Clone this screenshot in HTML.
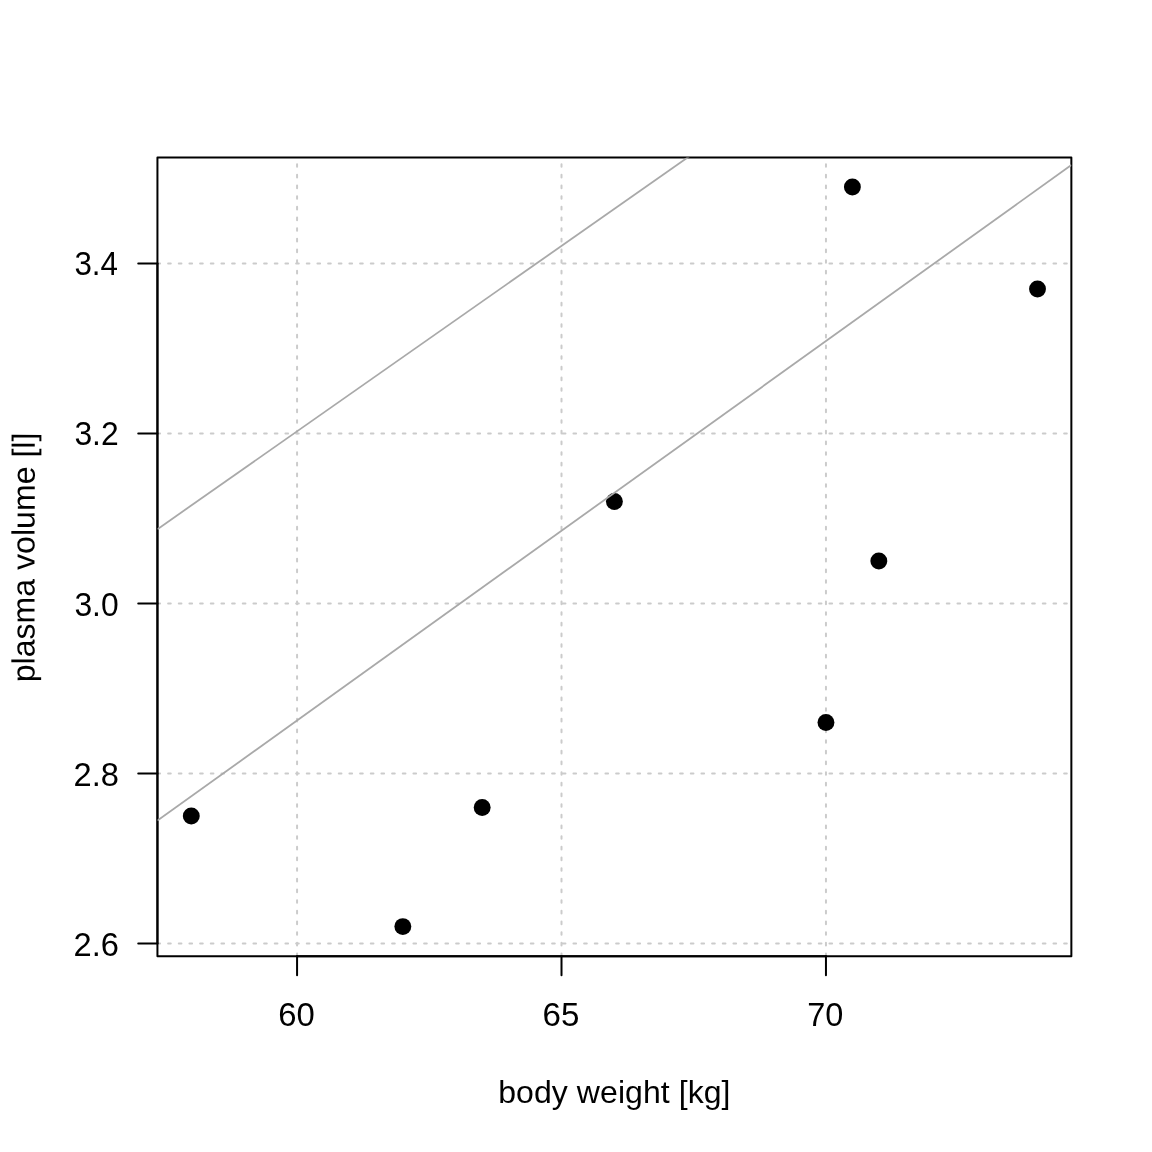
<!DOCTYPE html>
<html><head><meta charset="utf-8"><title>plot</title>
<style>
html,body{margin:0;padding:0;background:#fff;}
svg{display:block;}
text{font-family:"Liberation Sans",sans-serif;font-size:32px;fill:#000;}
</style></head><body>
<svg xmlns="http://www.w3.org/2000/svg" width="1152" height="1152" viewBox="0 0 1152 1152">
<rect width="1152" height="1152" fill="#fff"/>
<defs><clipPath id="c"><rect x="157.44" y="157.44" width="913.92" height="798.72"/></clipPath></defs>
<g stroke="#cbcbcb" stroke-width="2" stroke-linecap="round" stroke-dasharray="2.667 8" fill="none" clip-path="url(#c)">
<path d="M297.07 956.16V157.44"/>
<path d="M561.51 956.16V157.44"/>
<path d="M825.96 956.16V157.44"/>
<path d="M157.44 943.58H1071.36"/>
<path d="M157.44 773.57H1071.36"/>
<path d="M157.44 603.55H1071.36"/>
<path d="M157.44 433.54H1071.36"/>
<path d="M157.44 263.53H1071.36"/>
</g>
<g fill="#000">
<circle cx="191.29" cy="816.07" r="8.45"/>
<circle cx="825.96" cy="722.56" r="8.45"/>
<circle cx="1037.51" cy="289.03" r="8.45"/>
<circle cx="482.18" cy="807.57" r="8.45"/>
<circle cx="402.84" cy="926.58" r="8.45"/>
<circle cx="852.40" cy="187.02" r="8.45"/>
<circle cx="878.84" cy="561.05" r="8.45"/>
<circle cx="614.40" cy="501.55" r="8.45"/>
</g>
<g stroke="#000" stroke-width="2" stroke-linecap="round" fill="none">
<path d="M297.07 956.16H825.96"/>
<path d="M297.07 956.16v19.2"/>
<path d="M561.51 956.16v19.2"/>
<path d="M825.96 956.16v19.2"/>
<path d="M157.44 943.58V263.53"/>
<path d="M157.44 943.58h-19.2"/>
<path d="M157.44 773.57h-19.2"/>
<path d="M157.44 603.55h-19.2"/>
<path d="M157.44 433.54h-19.2"/>
<path d="M157.44 263.53h-19.2"/>
<rect x="157.44" y="157.44" width="913.92" height="798.72" stroke-linejoin="round"/>
</g>
<g text-anchor="middle">
<text transform="translate(296.47 1026) scale(1.027 1.045)">60</text>
<text transform="translate(561.01 1026) scale(1.035 1.045)">65</text>
<text transform="translate(825.28 1026) scale(1.015 1.045)">70</text>
<text x="614.4" y="1103.1" letter-spacing="0.07">body weight [kg]</text>
<text letter-spacing="0.05" transform="translate(34.6 557.45) rotate(-89.95)">plasma volume [l]</text>
</g>
<g text-anchor="end">
<text transform="translate(118.98 956.00) scale(1.0214 1.045)">2.6</text>
<text transform="translate(118.94 786.00) scale(1.0205 1.045)">2.8</text>
<text transform="translate(118.66 616.00) scale(0.9951 1.045)">3.0</text>
<text transform="translate(118.67 445.00) scale(0.9955 1.045)">3.2</text>
<text transform="translate(117.98 275.00) scale(0.9794 1.045)">3.4</text>
</g>
<g stroke="#a9a9a9" stroke-width="1.8" fill="none" clip-path="url(#c)">
<path d="M157.44 820.60L1071.36 165.05"/>
<path d="M157.44 529.17L1071.36 -111.50"/>
</g>
</svg></body></html>
